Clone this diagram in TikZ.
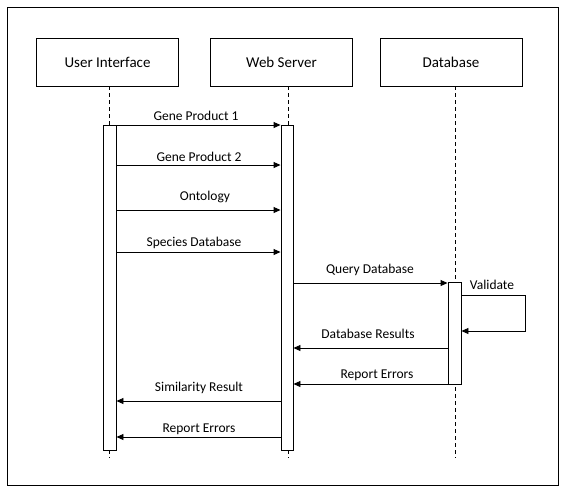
\documentclass[tikz,border=0pt]{standalone}
\usepackage{fontspec}
\setmainfont{Carlito}
\usetikzlibrary{arrows.meta}
\begin{document}
\begin{tikzpicture}[x=1pt,y=-1pt,
  actor/.style={draw,line width=0.9pt,minimum width=142pt,minimum height=48pt,inner sep=0pt,font=\fontsize{15}{17}\selectfont},
  bar/.style={draw,line width=0.9pt,fill=white},
  life/.style={dashed,dash pattern=on 4pt off 3pt,line width=0.7pt},
  msg/.style={line width=0.9pt,-{Triangle[length=7pt,width=6pt]}},
  lbl/.style={font=\fontsize{13.5}{15}\selectfont,inner sep=0pt}]
\useasboundingbox (0,0) rectangle (569,493);
\fill[white] (0,0) rectangle (569,493);
\draw[line width=1pt] (7.5,7.5) rectangle (558.5,485);
% actors
\node[actor] (ui) at (107.5,62) {User Interface};
\node[actor] (ws) at (281.5,62) {Web Server};
\node[actor] (db) at (451,62) {Database};
% lifelines
\coordinate (uiend) at (109,458);
\coordinate (wsend) at (288,458);
\coordinate (dbend) at (455,458);
\draw[life] (ui.south -| uiend) -- (uiend);
\draw[life] (ws.south -| wsend) -- (wsend);
\draw[life] (db.south -| dbend) -- (dbend);
% activation bars
\node[bar,minimum width=13pt,minimum height=325pt,inner sep=0pt] (uib) at (109.5,287.5) {};
\node[bar,minimum width=12pt,minimum height=325pt,inner sep=0pt] (wsb) at (287,287.5) {};
\node[bar,minimum width=13pt,minimum height=102pt,inner sep=0pt] (dbb) at (454.5,333) {};
% messages UI -> WS
\foreach \y/\t/\n/\lx/\ly in {125/Gene Product 1/m1/196/116,165/Gene Product 2/m2/199/157,210/Ontology/m3/205/197,252/Species Database/m4/194/243}{
  \coordinate (a\n) at (uib.east |- 0,\y);
  \coordinate (b\n) at (wsb.west |- 0,\y);
  \draw[msg] (a\n) -- (b\n);
  \node[lbl] (l\n) at (\lx,\ly) {\t};
}
% WS -> DB
\coordinate (aq) at (wsb.east |- 0,283);
\coordinate (bq) at (dbb.west |- 0,283);
\draw[msg] (aq) -- (bq);
\node[lbl] (lq) at (370,270) {Query Database};
% self loop
\coordinate (va) at (dbb.east |- 0,295);
\coordinate (vb) at (dbb.east |- 0,331);
\draw[msg] (va) -- (525,295) -- (525,331) -- (vb);
\node[lbl] (vl) at (492,285) {Validate};
% DB -> WS
\foreach \y/\t/\n/\lx/\ly in {348/Database Results/r1/368/334,384/Report Errors/r2/377/375}{
  \coordinate (a\n) at (dbb.west |- 0,\y);
  \coordinate (b\n) at (wsb.east |- 0,\y);
  \draw[msg] (a\n) -- (b\n);
  \node[lbl] (l\n) at (\lx,\ly) {\t};
}
% WS -> UI
\foreach \y/\t/\n/\lx/\ly in {401/Similarity Result/s1/199/388,437/Report Errors/s2/199/429}{
  \coordinate (a\n) at (wsb.west |- 0,\y);
  \coordinate (b\n) at (uib.east |- 0,\y);
  \draw[msg] (a\n) -- (b\n);
  \node[lbl] (l\n) at (\lx,\ly) {\t};
}
\end{tikzpicture}
\end{document}
